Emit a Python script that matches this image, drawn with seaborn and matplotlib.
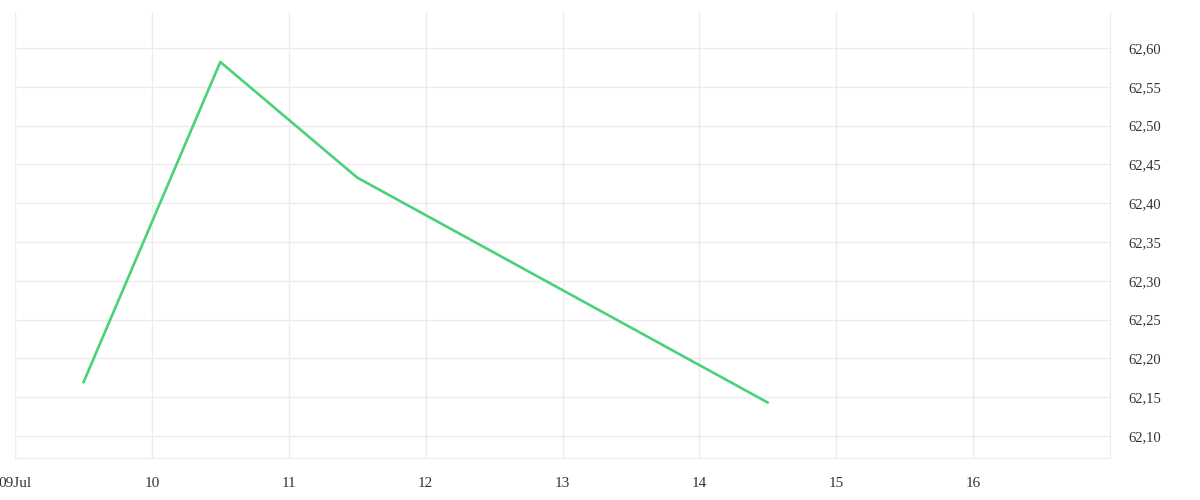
#!/usr/bin/env python
import matplotlib
matplotlib.use("Agg")
import matplotlib.pyplot as plt
import pandas as pd
import seaborn as sns

# valores
fechas = ["2024-07-09 12:00", "2024-07-10 12:00", "2024-07-11 12:00", "2024-07-14 12:00"]
valores = [62.169, 62.582, 62.433, 62.143]
ticks_x = ["2024-07-09", "2024-07-10", "2024-07-11", "2024-07-12",
           "2024-07-13", "2024-07-14", "2024-07-15", "2024-07-16"]
etiquetas_x = ["09Jul", "10", "11", "12", "13", "14", "15", "16"]
ticks_y = [62.10, 62.15, 62.20, 62.25, 62.30, 62.35, 62.40, 62.45, 62.50, 62.55, 62.60]


def grafico(df):
    sns.set_style("white")
    plt.rcParams['font.family'] = ['Liberation Serif', 'DejaVu Serif']
    fig = plt.figure(figsize=(12, 5), dpi=100)
    ax = fig.add_axes([0.0125, 0.084, 0.9125, 0.892])
    sns.lineplot(data=df, x="fecha", y="valor", color="#4ad27a", linewidth=1.9, ax=ax)

    ax.set_xlim(pd.Timestamp("2024-07-09"), pd.Timestamp("2024-07-17"))
    ax.set_ylim(62.0716, 62.6464)
    ax.set_xticks(pd.to_datetime(ticks_x))
    ax.set_xticklabels(etiquetas_x)
    ax.set_yticks(ticks_y)
    ax.set_yticklabels(["{:.2f}".format(v).replace(".", ",") for v in ticks_y])
    ax.yaxis.tick_right()

    ax.grid(True, color="#ececec", linewidth=1)
    for lado in ["top", "left"]:
        ax.spines[lado].set_visible(False)
    ax.spines["bottom"].set_color("#ececec")
    ax.spines["right"].set_color("#ececec")
    ax.tick_params(axis="x", length=10, color="#ececec", labelsize=11, pad=4, labelcolor="#333333")
    ax.tick_params(axis="y", length=0, labelsize=10.5, pad=13, labelcolor="#333333")
    ax.set_xlabel("")
    ax.set_ylabel("")
    fig.savefig("out.png", dpi=100)


if __name__ == '__main__':
    df = pd.DataFrame({"fecha": pd.to_datetime(fechas), "valor": valores})
    grafico(df)
